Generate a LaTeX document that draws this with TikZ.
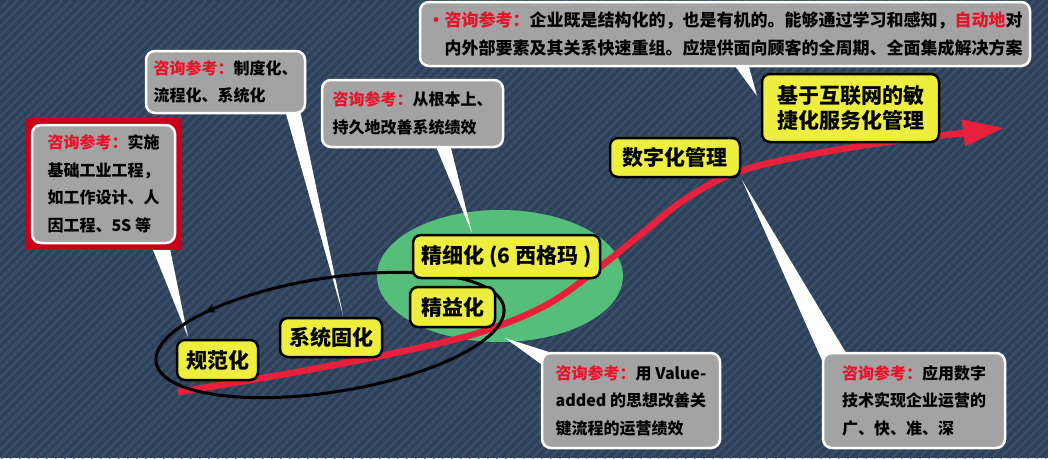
\documentclass[tikz,border=0pt]{standalone}
\usepackage{fontspec}
\newfontfamily\cjk{Noto Sans CJK SC}
\usetikzlibrary{shapes.geometric,calc,decorations.markings,arrows.meta}
\definecolor{bgcol}{RGB}{45,64,88}
\definecolor{stripecol}{RGB}{57,78,104}
\definecolor{boxgray}{RGB}{163,163,163}
\definecolor{labred}{RGB}{232,18,42}
\definecolor{frred}{RGB}{200,0,25}
\definecolor{ylw}{RGB}{238,238,62}
\definecolor{grn}{RGB}{84,190,122}
\definecolor{curvered}{RGB}{232,32,60}
\pgfdeclarelayer{back}
\pgfdeclarelayer{ptr}
\pgfsetlayers{back,ptr,main}
\newcommand{\zxlab}[1]{\textcolor{labred}{#1}}
\tikzset{
  callout/.style={fill=boxgray, draw=white, line width=2.5pt, rounded corners=9pt, inner sep=0pt, align=left, text=black, font=\cjk\bfseries\fontsize{16pt}{27.5pt}\selectfont},
  bigcallout/.style={callout, font=\cjk\bfseries\fontsize{17pt}{28pt}\selectfont},
  redframe/.style={fill=frred, inner sep=0pt},
  ybox/.style={fill=ylw, draw=black, line width=2.5pt, rounded corners=8pt, inner sep=0pt, align=center, text=black, font=\cjk\bfseries\fontsize{21pt}{25pt}\selectfont},
  greenblob/.style={ellipse, fill=grn, inner sep=0pt},
  ptrwedge/.style={fill=white},
  loopline/.style={draw=black, line width=3pt},
  curveline/.style={draw=curvered, line width=6.5pt},
}
\begin{document}
\begin{tikzpicture}[x=1pt,y=-1pt]
\useasboundingbox (0,0) rectangle (1048,458);
\begin{pgfonlayer}{back}
  \fill[bgcol] (0,0) rectangle (1048,458);
  \begin{scope}
    \clip (0,0) rectangle (1048,458);
    \foreach \i in {0,9,...,1512} {\draw[stripecol, line width=2.5pt] (\i-458,458) -- (\i,0);}
  \end{scope}
  \node[greenblob, minimum width=246pt, minimum height=132pt] (green) at (500,276) {};
\end{pgfonlayer}

% red growth curve
\draw[curveline] plot[smooth, tension=0.6] coordinates {(178,392) (280,375) (370,358) (440,343) (493,328) (550,303) (600,267) (640,235) (690,196) (750,168) (860,146) (965,133)};
\fill[curvered] (961.6,119.5) -- (1003,128) -- (965,146.5) -- cycle;

% black loop
\draw[loopline, rotate around={9:(330,335)}, postaction={decorate},
  decoration={markings, mark=at position 0.405 with {\arrow{Stealth[length=10pt,width=9pt]}}}]
  (330,335) ellipse [x radius=176pt, y radius=57pt];

% stage nodes
\node[ybox, minimum width=81pt, minimum height=40pt] (n1) at (217.5,360) {规范化};
\node[ybox, minimum width=102pt, minimum height=39pt] (n2) at (331,337.5) {系统固化};
\node[ybox, minimum width=85pt, minimum height=40pt] (n3) at (452.5,307) {精益化};
\node[ybox, minimum width=187pt, minimum height=43pt] (n4) at (506.5,256.5) {精细化 (6 西格玛 )};
\node[ybox, minimum width=130pt, minimum height=39pt] (n5) at (675,157.5) {数字化管理};
\node[ybox, minimum width=177pt, minimum height=68pt] (n6) at (850.5,108) {基于互联网的敏\\捷化服务化管理};

% callouts
\node[redframe, minimum width=157pt, minimum height=132pt] (f1) at (103.5,184) {};
\node[callout, minimum width=143pt, minimum height=118pt] (c1) at (103.5,184) {\zxlab{咨询参考：}实施\\基础工业工程，\\如工作设计、人\\因工程、5S 等};
\node[callout, minimum width=159pt, minimum height=62pt] (c2) at (225.5,82) {\zxlab{咨询参考：}制度化、\\流程化、系统化};
\node[callout, minimum width=181pt, minimum height=67pt] (c3) at (412.5,113.5) {\zxlab{咨询参考：}从根本上、\\持久地改善系统绩效};
\node[bigcallout, minimum width=610pt, minimum height=64pt] (c4) at (725,34) {\zxlab{•咨询参考：}企业既是结构化的，也是有机的。能够通过学习和感知，\zxlab{自动地}对\\\hphantom{•}内外部要素及其关系快速重组。应提供面向顾客的全周期、全面集成解决方案};
\node[callout, minimum width=178pt, minimum height=95pt] (c5) at (631,400.5) {\zxlab{咨询参考：}用 Value-\\added 的思想改善关\\键流程的运营绩效};
\node[callout, minimum width=182pt, minimum height=95pt] (c6) at (914,400.5) {\zxlab{咨询参考：}应用数字\\技术实现企业运营的\\广、快、准、深};

% pointer tips
\coordinate (p1) at (188,337);
\coordinate (p2) at (343,315);
\coordinate (p3) at (472,233);
\coordinate (p4) at (757,96);
\coordinate (p5) at (505,338);
\coordinate (p6) at (742,180);

\begin{pgfonlayer}{ptr}
  \fill[ptrwedge] ($(f1.south)+(48,-4)$) -- ($(f1.south)+(66,-4)$) -- (p1) -- cycle;
  \fill[ptrwedge] ($(c2.south)+(59.5,-4)$) -- ($(c2.south)+(74.5,-4)$) -- (p2) -- cycle;
  \fill[ptrwedge] ($(c3.south)+(22.5,-4)$) -- ($(c3.south)+(37.5,-4)$) -- (p3) -- cycle;
  \fill[ptrwedge] ($(c4.south)+(8,-4)$) -- ($(c4.south)+(23,-4)$) -- (p4) -- cycle;
  \fill[ptrwedge] ($(c5.north west)+(4,15)$) -- ($(c5.north west)+(20,4)$) -- (p5) -- cycle;
  \fill[ptrwedge] ($(c6.north west)+(4,17)$) -- ($(c6.north west)+(26,4)$) -- (p6) -- cycle;
\end{pgfonlayer}
\end{tikzpicture}
\end{document}
